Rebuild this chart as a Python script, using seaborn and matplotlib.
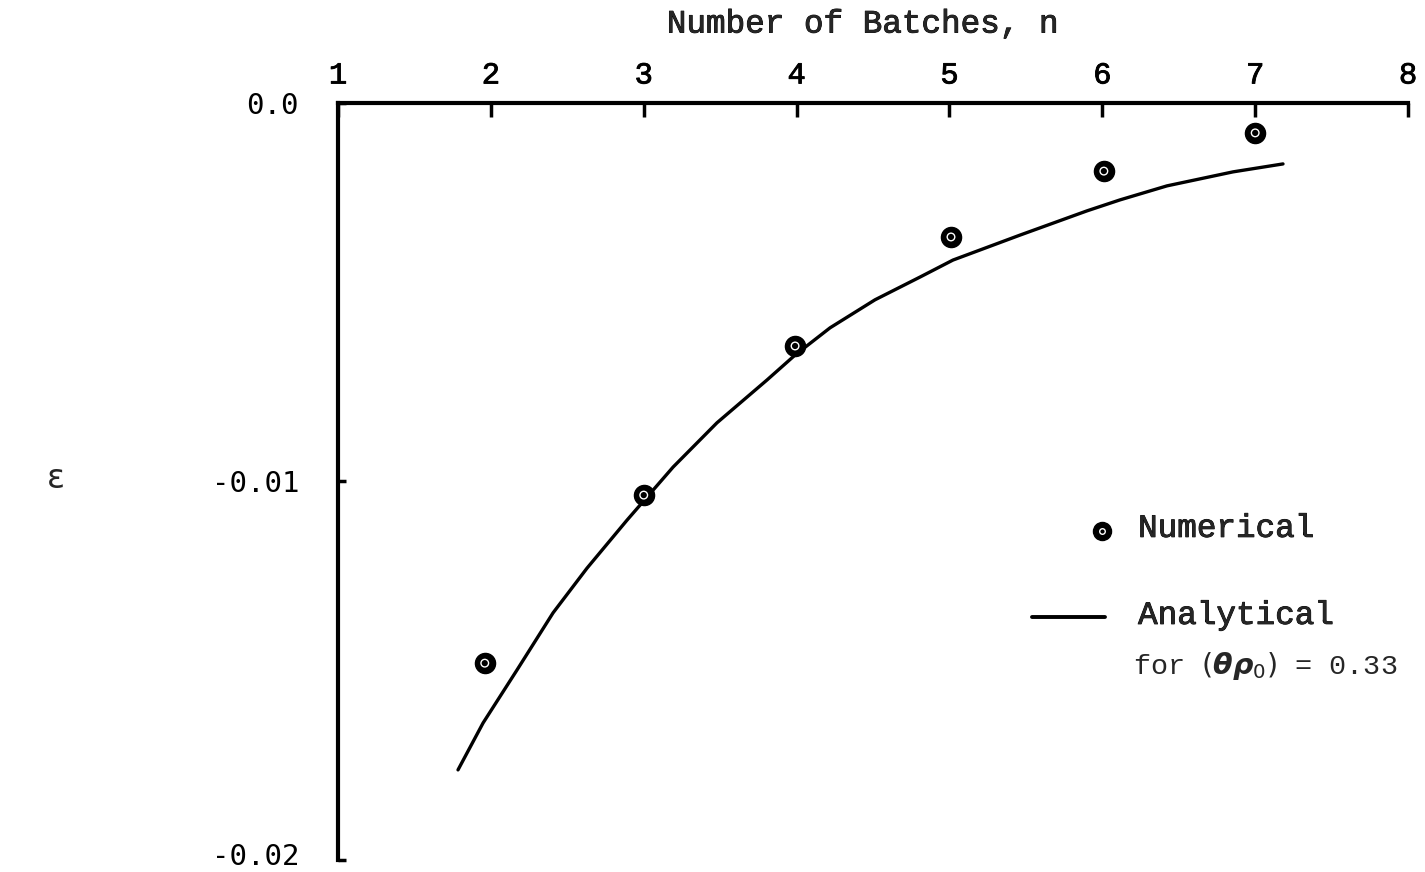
import matplotlib
matplotlib.use("Agg")
import matplotlib.pyplot as plt
import matplotlib.patheffects as pe
import matplotlib.transforms as mtransforms
import seaborn as sns
import pandas as pd

# Numerical results: error vs. number of batches
batches = [1.96, 3.0, 3.99, 5.01, 6.01, 7.0]
err_numerical = [-0.01480, -0.01036, -0.00642, -0.00354, -0.00180, -0.00079]

# Analytical solution curve
n_curve = [1.785, 1.949, 2.171, 2.407, 2.629, 2.891, 3.192, 3.479, 3.806,
           3.990, 4.219, 4.513, 4.807, 5.023, 5.462, 5.900, 6.116, 6.423,
           6.855, 7.182]
err_analytical = [-0.01762, -0.01638, -0.01498, -0.01347, -0.01229, -0.01102,
                  -0.00962, -0.00845, -0.00732, -0.00666, -0.00594, -0.00520,
                  -0.00460, -0.00415, -0.00349, -0.00285, -0.00256, -0.00219,
                  -0.00182, -0.00161]

x_ticks = [1, 2, 3, 4, 5, 6, 7, 8]
y_ticks = [0.0, -0.01, -0.02]
y_ticklabels = ["0.0", "-0.01", "-0.02"]

sns.set_theme(style="white")
plt.rcParams["font.family"] = ["Liberation Mono", "DejaVu Sans"]

heavy = [pe.withStroke(linewidth=0.6, foreground="black")]

fig = plt.figure(figsize=(14.25, 8.72), dpi=100)
ax = fig.add_axes([0.2372, 0.0138, 0.7509, 0.8681])

df_curve = pd.DataFrame({"n": n_curve, "eps": err_analytical})
df_pts = pd.DataFrame({"n": batches, "eps": err_numerical})

sns.lineplot(data=df_curve, x="n", y="eps", ax=ax, color="black",
             linewidth=2.4, sort=False, estimator=None,
             solid_joinstyle="round", solid_capstyle="round")
sns.scatterplot(data=df_pts, x="n", y="eps", ax=ax, color="black",
                s=210, marker="o", edgecolor="black", linewidth=1.0, zorder=3)
sns.scatterplot(data=df_pts, x="n", y="eps", ax=ax, facecolor="none",
                s=30, marker="o", edgecolor="white", linewidth=1.0, zorder=4)

ax.set_xlim(1, 8)
ax.set_ylim(-0.02, 0.0)

# Axis styling: x axis on top, left spine only
for side in ["right", "bottom"]:
    ax.spines[side].set_visible(False)
for side in ["left", "top"]:
    ax.spines[side].set_visible(True)
    ax.spines[side].set_linewidth(3)
    ax.spines[side].set_color("black")

ax.xaxis.tick_top()
ax.xaxis.set_label_position("top")
ax.set_xticks(x_ticks)
ax.set_xticklabels([str(v) for v in x_ticks], fontsize=22)
for t in ax.get_xticklabels():
    t.set_path_effects(heavy)
ax.tick_params(axis="x", direction="in", length=10, width=2.5, pad=9,
               top=True, bottom=False, colors="black")
ax.set_xlabel("Number of Batches, n", fontsize=23.5, path_effects=heavy)
ax.xaxis.set_label_coords(0.4907, 1.093)

ax.set_yticks(y_ticks)
ax.set_yticklabels(y_ticklabels, fontsize=21, family="DejaVu Sans Mono")
ax.tick_params(axis="y", direction="in", length=6, width=2.5, pad=28,
               left=True, colors="black")
# lift the bottom label a little so it stays inside the figure
low = ax.get_yticklabels()[2]
low.set_transform(low.get_transform() +
                  mtransforms.ScaledTranslation(0, 4 / 72, fig.dpi_scale_trans))
ax.set_ylabel("ε", rotation=0, fontsize=24, family="DejaVu Sans")
ax.yaxis.set_label_coords(-0.264, 0.482)

# Legend drawn as annotations
tr = ax.transAxes
ax.plot([0.714], [0.4346], transform=tr, marker="o", color="black",
        markersize=13, clip_on=False)
ax.plot([0.714], [0.4346], transform=tr, marker="o", markerfacecolor="none",
        markeredgecolor="white", markersize=4, markeredgewidth=1, clip_on=False)
ax.text(0.7477, 0.4380, "Numerical", transform=tr, fontsize=23.5,
        va="center", ha="left", path_effects=heavy)
ax.plot([0.6486, 0.7168], [0.321, 0.321], transform=tr, color="black",
        linewidth=2.8, clip_on=False)
ax.text(0.7477, 0.3230, "Analytical", transform=tr, fontsize=23.5,
        va="center", ha="left", path_effects=heavy)
ax.text(0.7430, 0.2560, r"for $(\boldsymbol{\theta\rho}_0)$ = 0.33",
        transform=tr, fontsize=20.5, va="center", ha="left")

fig.savefig("out.png", dpi=100, facecolor="white")
